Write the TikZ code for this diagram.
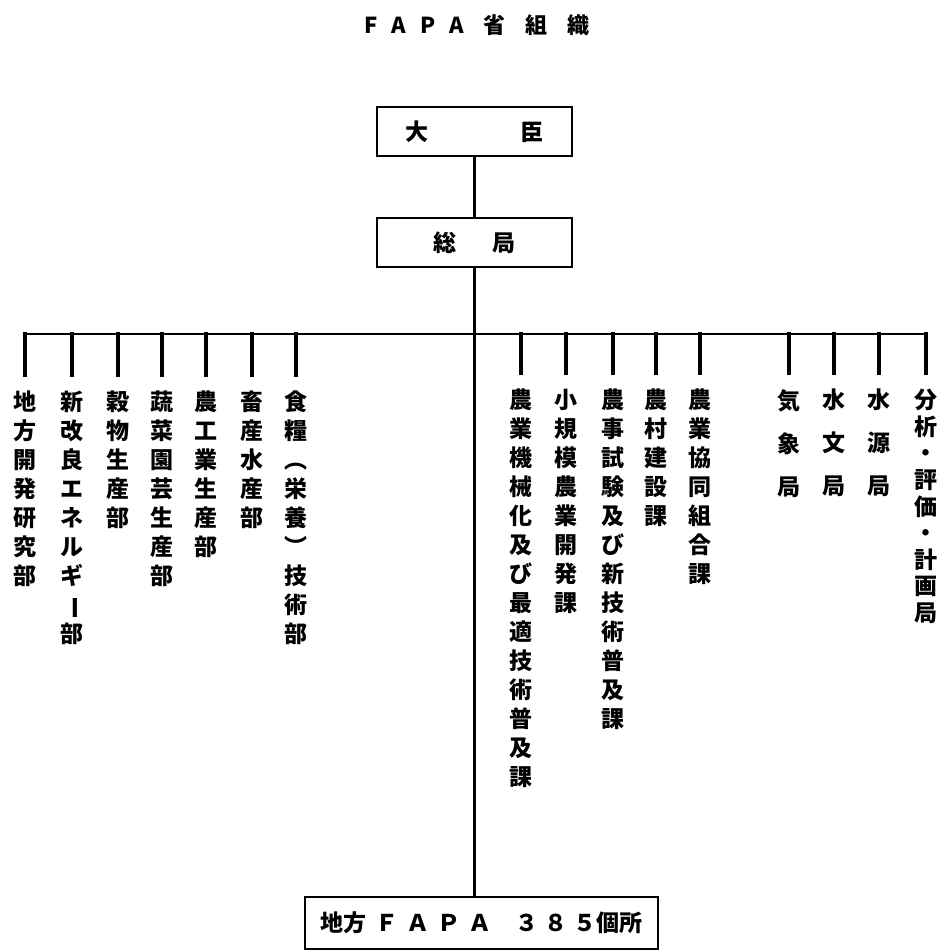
\documentclass[tikz,border=0pt]{standalone}
\usepackage{fontspec}
\setmainfont{Noto Sans CJK JP}
\usetikzlibrary{positioning}

\begin{document}
\begin{tikzpicture}[
			x=1pt, y=-1pt,
			box/.style={draw, line width=2pt, minimum width=195pt, minimum height=49pt, inner sep=0pt, font=\fontsize{23}{26}\selectfont\bfseries},
			column/.style={anchor=north, align=center, inner sep=0pt, font=\fontsize{23}{29}\selectfont\bfseries},
			widecol/.style={column, font=\fontsize{23}{43}\selectfont\bfseries},
			tightcol/.style={column, font=\fontsize{23}{26.6}\selectfont\bfseries},
			link/.style={line width=2.6pt},
			trunk/.style={line width=3.2pt},
			branch/.style={line width=3.2pt, line cap=rect, shorten >=16pt},
			bar/.style={line width=1.8pt}
			]
			\useasboundingbox (0,0) rectangle (944,950);
			
			% Title
			\node (title) at (477,25) {\fontsize{22}{26}\selectfont\bfseries F\hspace{14pt}A\hspace{14pt}P\hspace{14pt}A\hspace{20pt}省\hspace{20pt}組\hspace{20pt}織};
			
			% Boxes
			\node (minister) [box] at (474.5,131.5) {大\hspace{92pt}臣};
			\node (general_bureau) [box, below=60pt of minister] {総\hspace{37pt}局};
			\node (regional_fapa) [box, minimum width=353pt, minimum height=52pt] at (481.5,923) {地方\hspace{10pt}Ｆ\hspace{8pt}Ａ\hspace{8pt}Ｐ\hspace{8pt}Ａ\hspace{24pt}３\hspace{6pt}８\hspace{6pt}５個所\hspace{32pt}};
			
			% Departments
			\coordinate (bar_level) at (0,334);
			\node (dev_research) [column] at (25,391) {地\\方\\開\\発\\研\\究\\部};
			\node (new_energy) [column] at (72,391) {新\\改\\良\\エ\\ネ\\ル\\ギ\\\rotatebox[origin=c]{-90}{ー}\\部};
			\node (grain) [column] at (118,391) {穀\\物\\生\\産\\部};
			\node (vegetable) [column] at (162,391) {蔬\\菜\\園\\芸\\生\\産\\部};
			\node (agro_industry) [column] at (206,391) {農\\工\\業\\生\\産\\部};
			\node (livestock) [column] at (252,391) {畜\\産\\水\\産\\部};
			\node (food_tech) [column] at (296,391) {食\\糧\\︵\\栄\\養\\︶\\技\\術\\部};
			
			% Sections
			\node (mechanization) [column] at (521,389) {農\\業\\機\\械\\化\\及\\び\\最\\適\\技\\術\\普\\及\\課};
			\node (small_farm) [column] at (566,389) {小\\規\\模\\農\\業\\開\\発\\課};
			\node (experiment) [column] at (613,389) {農\\事\\試\\験\\及\\び\\新\\技\\術\\普\\及\\課};
			\node (rural_construction) [column] at (656,389) {農\\村\\建\\設\\課};
			\node (cooperative) [column] at (700,389) {農\\業\\協\\同\\組\\合\\課};
			
			% Bureaus
			\node (meteorology) [widecol] at (789,389) {気\\象\\局};
			\node (hydrology) [widecol] at (834,389) {水\\文\\局};
			\node (water_resources) [widecol] at (879,389) {水\\源\\局};
			\node (planning) [tightcol] at (926,389) {分\\析\\・\\評\\価\\・\\計\\画\\局};
			
			% Connections
			\draw [link] (minister) -- (general_bureau);
			\draw [trunk] (general_bureau) -- (general_bureau |- regional_fapa.north);
			\draw [bar] (dev_research |- bar_level) -- (planning |- bar_level);
			\draw [branch] (dev_research |- bar_level) -- (dev_research);
			\draw [branch] (new_energy |- bar_level) -- (new_energy);
			\draw [branch] (grain |- bar_level) -- (grain);
			\draw [branch] (vegetable |- bar_level) -- (vegetable);
			\draw [branch] (agro_industry |- bar_level) -- (agro_industry);
			\draw [branch] (livestock |- bar_level) -- (livestock);
			\draw [branch] (food_tech |- bar_level) -- (food_tech);
			\draw [branch] (mechanization |- bar_level) -- (mechanization);
			\draw [branch] (small_farm |- bar_level) -- (small_farm);
			\draw [branch] (experiment |- bar_level) -- (experiment);
			\draw [branch] (rural_construction |- bar_level) -- (rural_construction);
			\draw [branch] (cooperative |- bar_level) -- (cooperative);
			\draw [branch] (meteorology |- bar_level) -- (meteorology);
			\draw [branch] (hydrology |- bar_level) -- (hydrology);
			\draw [branch] (water_resources |- bar_level) -- (water_resources);
			\draw [branch] (planning |- bar_level) -- (planning);
			
		\end{tikzpicture}
\end{document}
